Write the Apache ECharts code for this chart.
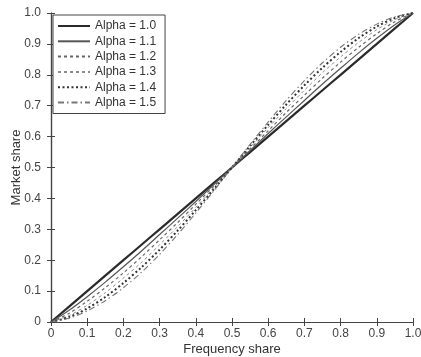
<!DOCTYPE html>
<html>
<head>
<meta charset="utf-8">
<script src="https://cdn.jsdelivr.net/npm/echarts@6/dist/echarts.min.js"></script>
<style>
html,body{margin:0;padding:0;background:#fff;}
#c{width:421px;height:357px;}
</style>
</head>
<body>
<div id="c"></div>
<script>
var xs = [0, 0.05, 0.1, 0.15, 0.2, 0.25, 0.3, 0.35, 0.4, 0.45, 0.5, 0.55, 0.6, 0.65, 0.7, 0.75, 0.8, 0.85, 0.9, 0.95, 1];
var alpha10 = [0, 0.05, 0.1, 0.15, 0.2, 0.25, 0.3, 0.35, 0.4, 0.45, 0.5, 0.55, 0.6, 0.65, 0.7, 0.75, 0.8, 0.85, 0.9, 0.95, 1];
var alpha11 = [0, 0.038, 0.082, 0.129, 0.179, 0.230, 0.283, 0.336, 0.390, 0.445, 0.5, 0.555, 0.610, 0.664, 0.717, 0.770, 0.821, 0.871, 0.918, 0.962, 1];
var alpha12 = [0, 0.028, 0.067, 0.111, 0.159, 0.211, 0.266, 0.322, 0.381, 0.440, 0.5, 0.560, 0.619, 0.678, 0.734, 0.789, 0.841, 0.889, 0.933, 0.972, 1];
var alpha13 = [0, 0.021, 0.054, 0.095, 0.142, 0.193, 0.250, 0.309, 0.371, 0.435, 0.5, 0.565, 0.629, 0.691, 0.750, 0.807, 0.858, 0.905, 0.946, 0.979, 1];
var alpha14 = [0, 0.016, 0.044, 0.081, 0.126, 0.177, 0.234, 0.296, 0.362, 0.430, 0.5, 0.570, 0.638, 0.704, 0.766, 0.823, 0.874, 0.919, 0.956, 0.984, 1];
var alpha15 = [0, 0.012, 0.036, 0.069, 0.111, 0.161, 0.219, 0.283, 0.353, 0.425, 0.5, 0.575, 0.647, 0.717, 0.781, 0.839, 0.889, 0.931, 0.964, 0.988, 1];
var seriesNames = ['Alpha = 1.0', 'Alpha = 1.1', 'Alpha = 1.2', 'Alpha = 1.3', 'Alpha = 1.4', 'Alpha = 1.5'];
var xTicks = [0, 0.1, 0.2, 0.3, 0.4, 0.5, 0.6, 0.7, 0.8, 0.9, 1.0];

var seriesValues = [alpha10, alpha11, alpha12, alpha13, alpha14, alpha15];
var styles = [
  {color: '#2a2a2a', width: 2.2, type: 'solid'},
  {color: '#555555', width: 1.2, type: 'solid'},
  {color: '#666666', width: 1.2, type: [3, 3]},
  {color: '#8a8a8a', width: 1, type: [3, 3]},
  {color: '#333333', width: 2, type: [2, 2.5]},
  {color: '#777777', width: 1.1, type: [6, 3, 1.5, 3]}
];

function pairs(vals) {
  return xs.map(function (x, i) { return [x, vals[i]]; });
}
function fmt(v) {
  if (Math.abs(v) < 1e-9) return '0';
  return v.toFixed(1);
}

var series = seriesNames.map(function (n, i) {
  return {
    name: n,
    type: 'line',
    data: pairs(seriesValues[i]),
    showSymbol: false,
    symbol: 'none',
    smooth: 0.3,
    animation: false,
    lineStyle: styles[i],
    itemStyle: {color: styles[i].color},
    xAxisIndex: 0,
    yAxisIndex: 0
  };
});

var axisCommon = {
  type: 'value', min: 0, max: 1, interval: 0.1,
  splitLine: {show: false},
  axisLine: {show: true, lineStyle: {color: '#444', width: 1.2}},
  axisTick: {show: true, inside: true, length: 4, lineStyle: {color: '#444'}}
};

var chart = echarts.init(document.getElementById('c'), null, {renderer: 'canvas'});
chart.setOption({
  backgroundColor: '#ffffff',
  animation: false,
  textStyle: {fontFamily: 'Liberation Sans'},
  grid: {left: 51, right: 8, top: 13, bottom: 35, containLabel: false, outerBoundsMode: 'none'},
  xAxis: [
    Object.assign({}, axisCommon, {
      position: 'bottom',
      name: 'Frequency share', nameLocation: 'middle', nameGap: 21, nameMoveOverlap: false,
      nameTextStyle: {color: '#333', fontSize: 13, fontFamily: 'Liberation Sans'},
      axisLabel: {color: '#444', fontSize: 12, margin: 6, formatter: fmt, fontFamily: 'Liberation Sans'}
    }),
    Object.assign({}, axisCommon, {position: 'top', axisLabel: {show: false}})
  ],
  yAxis: [
    Object.assign({}, axisCommon, {
      position: 'left',
      name: 'Market share', nameLocation: 'middle', nameGap: 28, nameMoveOverlap: false,
      nameTextStyle: {color: '#333', fontSize: 13, fontFamily: 'Liberation Sans'},
      axisLabel: {color: '#444', fontSize: 12, margin: 10, formatter: fmt, fontFamily: 'Liberation Sans'}
    }),
    Object.assign({}, axisCommon, {position: 'right', axisLabel: {show: false}})
  ],
  legend: {
    data: seriesNames,
    orient: 'vertical',
    left: 53, top: 15,
    backgroundColor: '#ffffff',
    borderColor: '#444', borderWidth: 1,
    padding: [5, 9, 5, 4],
    itemWidth: 32, itemHeight: 12, itemGap: 3.3,
    itemStyle: {opacity: 0},
    textStyle: {color: '#333', fontSize: 12, fontFamily: 'Liberation Sans'}
  },
  series: series
});
</script>
</body>
</html>
